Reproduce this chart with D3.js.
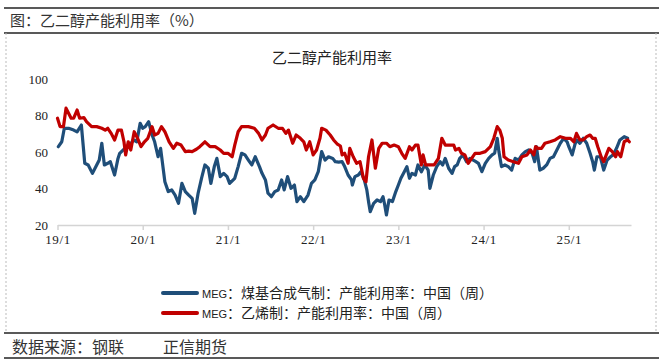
<!DOCTYPE html>
<html>
<head>
<meta charset="utf-8">
<script src="https://cdn.jsdelivr.net/npm/d3@7/dist/d3.min.js"></script>
<style>
  body { margin: 0; background: #fff; }
  svg { display: block; }
</style>
</head>
<body>
<svg id="chart"></svg>
<script>
// MEG: 煤基合成气制 (coal-based syngas) — weekly readings, decimal year
const coalYears = [2019.01, 2019.05, 2019.08, 2019.13, 2019.19, 2019.23, 2019.28, 2019.32, 2019.36, 2019.41,
  2019.46, 2019.49, 2019.52, 2019.55, 2019.59, 2019.62, 2019.67, 2019.71, 2019.73, 2019.79,
  2019.84, 2019.89, 2019.93, 2019.97, 2020.00, 2020.03, 2020.07, 2020.11, 2020.14, 2020.18,
  2020.21, 2020.26, 2020.30, 2020.34, 2020.38, 2020.42, 2020.46, 2020.50, 2020.54, 2020.58,
  2020.61, 2020.65, 2020.69, 2020.73, 2020.77, 2020.80, 2020.84, 2020.87, 2020.91, 2020.95,
  2020.99, 2021.02, 2021.08, 2021.12, 2021.16, 2021.20, 2021.24, 2021.28, 2021.32, 2021.37,
  2021.40, 2021.44, 2021.47, 2021.51, 2021.55, 2021.59, 2021.63, 2021.66, 2021.70, 2021.74,
  2021.78, 2021.81, 2021.85, 2021.89, 2021.94, 2021.98, 2022.02, 2022.06, 2022.10, 2022.14,
  2022.18, 2022.23, 2022.26, 2022.30, 2022.34, 2022.37, 2022.41, 2022.45, 2022.46, 2022.49,
  2022.53, 2022.56, 2022.60, 2022.63, 2022.65, 2022.67, 2022.71, 2022.75, 2022.79, 2022.82,
  2022.84, 2022.86, 2022.89, 2022.93, 2022.97, 2023.00, 2023.03, 2023.07, 2023.10, 2023.13,
  2023.16, 2023.20, 2023.23, 2023.27, 2023.31, 2023.35, 2023.37, 2023.41, 2023.45, 2023.49,
  2023.52, 2023.55, 2023.59, 2023.63, 2023.66, 2023.69, 2023.72, 2023.76, 2023.80, 2023.84,
  2023.90, 2023.94, 2023.98, 2024.02, 2024.06, 2024.10, 2024.13, 2024.16, 2024.18, 2024.21,
  2024.25, 2024.29, 2024.33, 2024.37, 2024.41, 2024.45, 2024.49, 2024.53, 2024.57, 2024.60,
  2024.62, 2024.66, 2024.70, 2024.74, 2024.78, 2024.82, 2024.86, 2024.90, 2024.94, 2024.98,
  2025.00, 2025.04, 2025.07, 2025.09, 2025.13, 2025.17, 2025.21, 2025.25, 2025.28, 2025.30,
  2025.33, 2025.37, 2025.41, 2025.45, 2025.49, 2025.52, 2025.56, 2025.60, 2025.65, 2025.69];
const coalValues = [62.9, 65.6, 73.0, 73.0, 72.0, 71.0, 74.8, 53.8, 52.9, 48.3,
  52.9, 55.6, 64.8, 52.9, 53.8, 54.7, 47.4, 56.5, 59.3, 62.0,
  62.9, 66.6, 65.6, 75.7, 73.0, 73.9, 76.6, 69.3, 65.6, 57.4,
  62.0, 43.7, 38.3, 39.2, 36.4, 31.9, 42.8, 38.3, 36.4, 34.6,
  26.4, 37.4, 45.6, 52.9, 51.1, 42.8, 52.0, 56.5, 46.5, 48.3,
  46.5, 42.8, 45.6, 52.0, 59.3, 58.4, 55.6, 52.9, 57.4, 52.0,
  48.3, 44.7, 37.4, 35.5, 38.3, 39.2, 44.7, 39.2, 46.5, 40.1,
  41.9, 32.8, 35.5, 32.8, 36.4, 42.8, 44.7, 49.2, 60.2, 55.6,
  57.4, 56.5, 54.7, 54.5, 54.7, 52.0, 47.4, 44.7, 41.9, 46.5,
  47.4, 49.2, 44.7, 39.2, 32.8, 27.3, 31.9, 33.7, 32.8, 35.5,
  31.0, 25.5, 33.7, 32.8, 38.3, 41.9, 45.6, 49.2, 52.0, 45.6,
  48.3, 47.4, 52.9, 49.2, 52.9, 50.1, 40.1, 47.4, 52.0, 54.7,
  52.9, 56.5, 51.1, 48.3, 52.0, 52.9, 56.5, 58.4, 54.7, 56.5,
  55.0, 53.8, 49.2, 53.8, 56.5, 58.4, 59.3, 67.5, 60.2, 52.0,
  52.9, 52.0, 50.1, 56.5, 55.6, 58.4, 60.2, 61.1, 59.3, 54.7,
  62.9, 50.1, 51.1, 52.9, 56.5, 57.4, 61.1, 64.8, 67.5, 65.6,
  62.9, 58.4, 63.8, 66.6, 64.8, 67.5, 64.8, 59.3, 54.7, 50.1,
  57.4, 57.4, 50.1, 55.6, 57.4, 58.4, 62.0, 66.6, 68.4, 67.5];

// MEG: 乙烯制 (ethylene-based)
const ethYears = [2019.00, 2019.03, 2019.07, 2019.10, 2019.13, 2019.16, 2019.19, 2019.23, 2019.26, 2019.31,
  2019.34, 2019.40, 2019.46, 2019.52, 2019.56, 2019.59, 2019.63, 2019.67, 2019.71, 2019.75,
  2019.78, 2019.80, 2019.83, 2019.86, 2019.90, 2019.94, 2019.98, 2020.02, 2020.06, 2020.11,
  2020.14, 2020.18, 2020.22, 2020.26, 2020.31, 2020.36, 2020.40, 2020.45, 2020.50, 2020.54,
  2020.58, 2020.63, 2020.67, 2020.73, 2020.79, 2020.85, 2020.91, 2020.95, 2021.00, 2021.05,
  2021.08, 2021.12, 2021.16, 2021.24, 2021.31, 2021.36, 2021.40, 2021.44, 2021.47, 2021.53,
  2021.59, 2021.64, 2021.68, 2021.71, 2021.76, 2021.80, 2021.85, 2021.89, 2021.92, 2021.96,
  2022.00, 2022.04, 2022.08, 2022.10, 2022.15, 2022.20, 2022.24, 2022.28, 2022.32, 2022.34,
  2022.37, 2022.41, 2022.43, 2022.47, 2022.51, 2022.55, 2022.59, 2022.62, 2022.65, 2022.69,
  2022.73, 2022.77, 2022.81, 2022.86, 2022.90, 2022.95, 2023.00, 2023.04, 2023.08, 2023.13,
  2023.16, 2023.20, 2023.23, 2023.27, 2023.29, 2023.32, 2023.37, 2023.42, 2023.47, 2023.51,
  2023.55, 2023.61, 2023.65, 2023.67, 2023.71, 2023.74, 2023.78, 2023.82, 2023.86, 2023.90,
  2023.96, 2024.02, 2024.08, 2024.12, 2024.16, 2024.19, 2024.22, 2024.24, 2024.29, 2024.35,
  2024.41, 2024.45, 2024.51, 2024.55, 2024.59, 2024.61, 2024.64, 2024.68, 2024.72, 2024.78,
  2024.84, 2024.90, 2024.96, 2025.02, 2025.06, 2025.09, 2025.13, 2025.17, 2025.21, 2025.25,
  2025.28, 2025.31, 2025.34, 2025.38, 2025.41, 2025.44, 2025.47, 2025.51, 2025.55, 2025.57,
  2025.61, 2025.65, 2025.69, 2025.71];
const ethValues = [78.5, 73.9, 73.9, 84.0, 81.2, 78.5, 78.5, 83.0, 78.5, 78.8,
  76.6, 73.9, 73.9, 73.0, 72.0, 73.0, 70.2, 66.6, 72.0, 72.0,
  65.6, 58.4, 65.6, 61.1, 71.1, 67.5, 62.9, 65.6, 67.5, 73.9,
  69.3, 70.2, 73.9, 71.1, 65.6, 62.0, 64.8, 63.8, 60.2, 60.5,
  60.2, 61.5, 62.9, 65.6, 62.9, 62.9, 61.1, 59.3, 59.3, 57.4,
  63.8, 71.1, 73.9, 73.9, 73.0, 70.2, 66.6, 69.3, 73.0, 74.8,
  73.0, 73.0, 70.2, 72.0, 64.8, 69.3, 67.5, 65.6, 61.1, 65.6,
  58.4, 61.1, 67.5, 73.0, 72.0, 69.3, 66.6, 64.5, 63.3, 58.4,
  59.3, 53.8, 62.0, 57.4, 53.8, 54.7, 45.6, 43.7, 57.4, 66.6,
  51.1, 62.0, 64.8, 64.8, 62.9, 63.8, 62.9, 59.3, 56.5, 62.9,
  61.1, 63.8, 63.8, 52.9, 58.4, 52.9, 52.9, 52.9, 56.5, 67.5,
  63.8, 63.8, 63.8, 61.1, 62.0, 59.3, 58.4, 53.8, 56.5, 59.3,
  59.3, 60.2, 62.9, 67.5, 73.9, 72.0, 67.5, 57.4, 55.6, 54.7,
  53.8, 57.4, 58.4, 61.1, 58.4, 62.9, 62.0, 62.0, 64.8, 65.6,
  66.6, 68.4, 67.5, 67.5, 65.6, 70.2, 66.6, 66.6, 68.4, 69.3,
  67.5, 67.5, 62.9, 57.4, 54.7, 58.4, 62.0, 60.2, 57.4, 60.2,
  57.4, 65.6, 66.6, 65.6];

const yTicks = [20, 40, 60, 80, 100];
const xTickYears = [2019, 2020, 2021, 2022, 2023, 2024, 2025];
const seriesNames = ['煤基合成气制：产能利用率：中国（周）', '乙烯制：产能利用率：中国（周）'];
const colors = ['#1f4e79', '#c00000'];

const W = 663, H = 363;
const svg = d3.select('#chart').attr('width', W).attr('height', H);
const cjk = '"Noto Sans CJK SC", "Noto Sans", sans-serif';

// page frame: header / footer rules and dotted sides
svg.append('rect').attr('width', W).attr('height', H).attr('fill', '#fff');
[8, 33, 333, 358].forEach(y => {
  svg.append('line')
    .attr('x1', 4).attr('x2', 659).attr('y1', y).attr('y2', y)
    .attr('stroke', '#222').attr('stroke-width', 1.4);
});
[6, 656].forEach(x => {
  svg.append('line')
    .attr('x1', x).attr('x2', x).attr('y1', 33).attr('y2', 333)
    .attr('stroke', '#bbb').attr('stroke-width', 1)
    .attr('stroke-dasharray', '2,2');
});

svg.append('text')
  .attr('x', 10).attr('y', 26)
  .attr('font-family', cjk).attr('font-size', 15).attr('fill', '#333')
  .text('图：乙二醇产能利用率（%）');

// footer: source and company
svg.append('text')
  .attr('x', 12).attr('y', 353)
  .attr('font-family', cjk).attr('font-size', 16).attr('fill', '#333')
  .text('数据来源：钢联');
svg.append('text')
  .attr('x', 163).attr('y', 353)
  .attr('font-family', cjk).attr('font-size', 16).attr('fill', '#333')
  .text('正信期货');

svg.append('text')
  .attr('x', 332).attr('y', 63)
  .attr('text-anchor', 'middle')
  .attr('font-family', cjk).attr('font-size', 15).attr('fill', '#222')
  .text('乙二醇产能利用率');

// scales
const xScale = d3.scaleLinear().domain([2019, 2025.73]).range([57.5, 631]);
const yScale = d3.scaleLinear().domain([20, 100]).range([225, 79]);

// x axis
const xAxis = d3.axisBottom(xScale)
  .tickValues(xTickYears)
  .tickSize(5)
  .tickSizeOuter(0)
  .tickPadding(5)
  .tickFormat(d => `${d % 100}/1`);

const gx = svg.append('g')
  .attr('transform', `translate(0, ${yScale(20)})`)
  .call(xAxis);
gx.select('.domain').attr('stroke', '#d4d4d4').attr('stroke-width', 1.5);
gx.selectAll('.tick line').attr('stroke', '#d4d4d4').attr('stroke-width', 1.5);
gx.selectAll('.tick text')
  .attr('font-family', '"Liberation Serif", serif')
  .attr('font-size', 13)
  .attr('letter-spacing', 0.6)
  .attr('fill', '#222');

// y axis (labels only)
const gy = svg.append('g')
  .attr('transform', 'translate(48, 0)')
  .call(d3.axisLeft(yScale).tickValues(yTicks).tickSize(0).tickPadding(0));
gy.select('.domain').remove();
gy.selectAll('.tick text')
  .attr('font-family', '"Liberation Serif", serif')
  .attr('font-size', 13)
  .attr('fill', '#222');

// lines
const line = d3.line()
  .x(d => xScale(d[0]))
  .y(d => yScale(d[1]));

const series = [
  d3.zip(coalYears, coalValues),
  d3.zip(ethYears, ethValues)
];

svg.append('g').selectAll('path')
  .data(series)
  .enter().append('path')
  .attr('d', line)
  .attr('fill', 'none')
  .attr('stroke', (d, i) => colors[i])
  .attr('stroke-width', 3.2)
  .attr('stroke-linejoin', 'round')
  .attr('stroke-linecap', 'round');

// legend
const legend = svg.append('g')
  .selectAll('g')
  .data(seriesNames)
  .enter().append('g')
  .attr('transform', (d, i) => `translate(163, ${293 + i * 20})`);

legend.append('line')
  .attr('x1', 0).attr('x2', 34)
  .attr('stroke', (d, i) => colors[i])
  .attr('stroke-width', 4)
  .attr('stroke-linecap', 'round');

const lt = legend.append('text')
  .attr('x', 39).attr('y', 5)
  .attr('font-family', cjk).attr('font-size', 14).attr('fill', '#222');
lt.append('tspan')
  .attr('font-family', '"Liberation Sans Narrow", "Liberation Sans", sans-serif')
  .attr('font-size', 11)
  .text('MEG');
lt.append('tspan').text(d => '：' + d);
</script>
</body>
</html>
